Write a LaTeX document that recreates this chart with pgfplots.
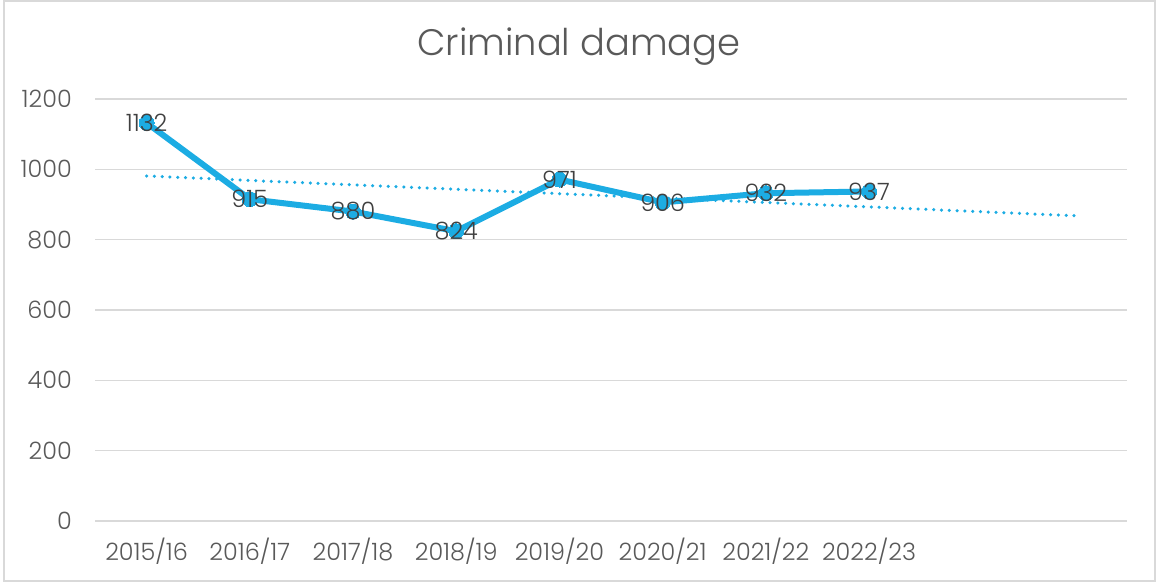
\documentclass[border=0pt]{standalone}
\usepackage{pgfplots}
\pgfplotsset{compat=1.18}
\usepackage{fontspec}
\setmainfont{Poppins Light}
\definecolor{lineblue}{HTML}{1CACE3}
\definecolor{txt}{HTML}{595959}
\definecolor{lbl}{HTML}{404040}
\begin{document}
\begin{tikzpicture}[x=1bp,y=1bp]
\useasboundingbox (0,0) rectangle (1156,582);
\draw[black!15, line width=1.2bp] (4,1) rectangle (1155,581);
\begin{axis}[
  at={(95bp,61bp)}, anchor=south west,
  scale only axis, width=1032bp, height=422bp,
  xmin=-0.5, xmax=9.5, ymin=0, ymax=1200,
  ytick={0,200,400,600,800,1000,1200},
  xtick={0,1,2,3,4,5,6,7},
  xticklabels={2015/16,2016/17,2017/18,2018/19,2019/20,2020/21,2021/22,2022/23},
  axis line style={draw=none}, major tick length=0pt,
  ymajorgrids, grid style={color=black!15, line width=1.3bp},
  /pgf/number format/assume math mode=true,
  /pgf/number format/1000 sep={},
  yticklabel style={font=\fontsize{24}{28}\selectfont, text=txt, anchor=east, inner sep=0pt, xshift=-23bp},
  xticklabel style={font=\fontsize{24}{28}\selectfont, text=txt, anchor=center, inner sep=0pt, yshift=-30bp},
  clip=false,
]
\addplot[lineblue, line width=3.5bp, line cap=round, dash pattern=on 0bp off 7.8bp] coordinates {(0,981) (9,868)};
\addplot[lineblue, line width=6bp, line join=round, mark=*, mark size=7.5bp, mark options={solid, fill=lineblue, draw=lineblue, line width=0pt},
  nodes near coords, point meta=explicit symbolic,
  every node near coord/.append style={anchor=center, text=lbl, font=\fontsize{24}{28}\selectfont, inner sep=0pt}]
  coordinates {(0,1132) [1132] (1,915) [915] (2,880) [880] (3,824) [824] (4,971) [971] (5,906) [906] (6,932) [932] (7,937) [937]};
\end{axis}
\node[text=txt, font=\fontsize{37}{44}\selectfont] at (579,535) {Criminal damage};
\end{tikzpicture}
\end{document}
